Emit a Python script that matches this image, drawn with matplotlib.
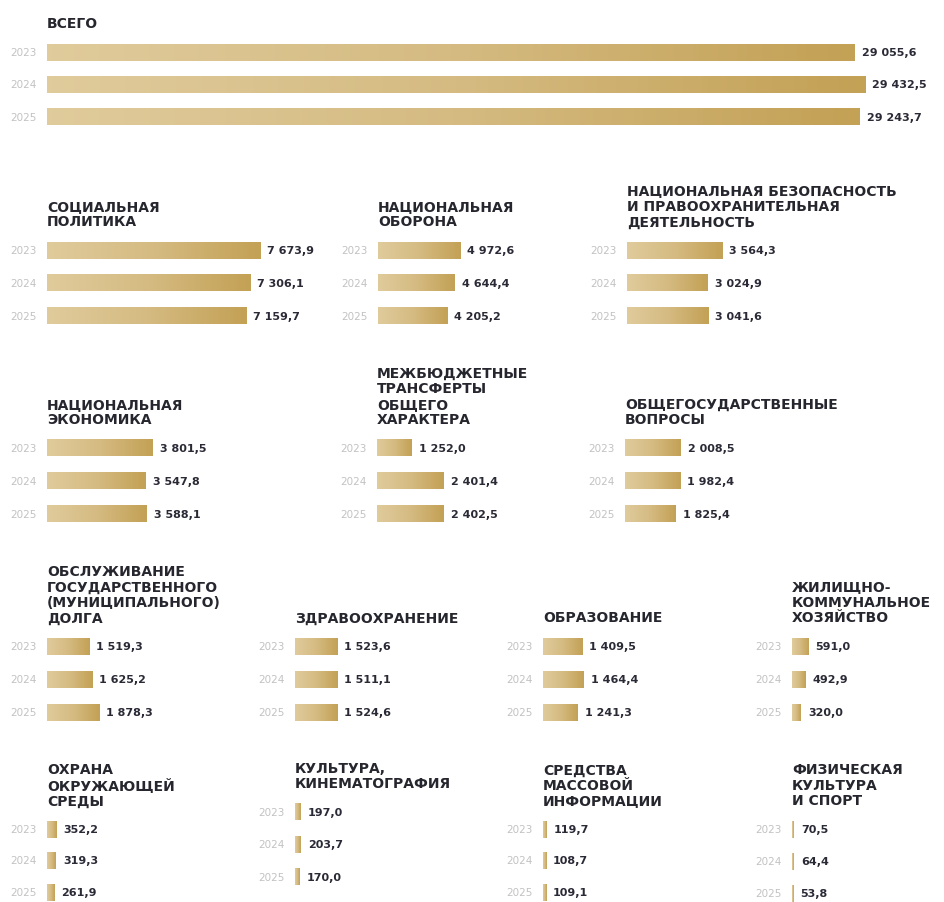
import numpy as np
import matplotlib.pyplot as plt
from matplotlib.colors import LinearSegmentedColormap

W, H = 944, 903

years = ["2023", "2024", "2025"]

titles = [
    "ВСЕГО",
    "СОЦИАЛЬНАЯ\nПОЛИТИКА",
    "НАЦИОНАЛЬНАЯ\nОБОРОНА",
    "НАЦИОНАЛЬНАЯ БЕЗОПАСНОСТЬ\nИ ПРАВООХРАНИТЕЛЬНАЯ\nДЕЯТЕЛЬНОСТЬ",
    "НАЦИОНАЛЬНАЯ\nЭКОНОМИКА",
    "МЕЖБЮДЖЕТНЫЕ\nТРАНСФЕРТЫ\nОБЩЕГО\nХАРАКТЕРА",
    "ОБЩЕГОСУДАРСТВЕННЫЕ\nВОПРОСЫ",
    "ОБСЛУЖИВАНИЕ\nГОСУДАРСТВЕННОГО\n(МУНИЦИПАЛЬНОГО)\nДОЛГА",
    "ЗДРАВООХРАНЕНИЕ",
    "ОБРАЗОВАНИЕ",
    "ЖИЛИЩНО-\nКОММУНАЛЬНОЕ\nХОЗЯЙСТВО",
    "ОХРАНА\nОКРУЖАЮЩЕЙ\nСРЕДЫ",
    "КУЛЬТУРА,\nКИНЕМАТОГРАФИЯ",
    "СРЕДСТВА\nМАССОВОЙ\nИНФОРМАЦИИ",
    "ФИЗИЧЕСКАЯ\nКУЛЬТУРА\nИ СПОРТ",
]

total = [29055.6, 29432.5, 29243.7]
social = [7673.9, 7306.1, 7159.7]
defense = [4972.6, 4644.4, 4205.2]
security = [3564.3, 3024.9, 3041.6]
economy = [3801.5, 3547.8, 3588.1]
transfers = [1252.0, 2401.4, 2402.5]
general = [2008.5, 1982.4, 1825.4]
debt = [1519.3, 1625.2, 1878.3]
health = [1523.6, 1511.1, 1524.6]
education = [1409.5, 1464.4, 1241.3]
housing = [591.0, 492.9, 320.0]
environment = [352.2, 319.3, 261.9]
culture = [197.0, 203.7, 170.0]
media = [119.7, 108.7, 109.1]
sport = [70.5, 64.4, 53.8]

values = [total, social, defense, security, economy, transfers, general,
          debt, health, education, housing, environment, culture, media, sport]

# panel layout in pixels: bar start x, panel width, centre of first / last bar,
# pixels per unit of value (the source draws defence on its own scale)
layout = [
    (47, 880, 53, 118, 0.0278),
    (47, 300, 251, 317, 0.0278),
    (378, 230, 251, 317, 0.0165),
    (627, 300, 251, 317, 0.0267),
    (47, 300, 449, 515, 0.0278),
    (377, 230, 449, 515, 0.0278),
    (625, 300, 449, 515, 0.0278),
    (47, 230, 647, 713, 0.0278),
    (295, 230, 647, 713, 0.0278),
    (543, 230, 647, 713, 0.0278),
    (792, 150, 647, 713, 0.0278),
    (47, 230, 830, 893, 0.0278),
    (295, 230, 813, 878, 0.0278),
    (543, 230, 830, 893, 0.0278),
    (792, 150, 830, 894, 0.0278),
]

gold = LinearSegmentedColormap.from_list("gold", ["#e0cb9c", "#d5bb82", "#c3a155"])
grad = np.linspace(0, 1, 256).reshape(1, -1)

title_font = dict(family="DejaVu Sans", fontsize=10, fontweight="bold", color="#26262f")
value_font = dict(family="DejaVu Sans", fontsize=8, fontweight="bold", color="#2a2a36")
year_font = dict(family="DejaVu Sans", fontsize=7.5, color="#c2c2c2")

BAR_PX = 17
LINE_PX = 15.5


def fmt(v):
    return f"{v:,.1f}".replace(",", " ").replace(".", ",")


fig = plt.figure(figsize=(W / 100, H / 100), dpi=100)
fig.patch.set_facecolor("white")

for title, vals, (x0, w, c1, c3, scale) in zip(titles, values, layout):
    sp = (c3 - c1) / 2
    top = c1 - sp / 2
    bottom = c3 + sp / 2
    ax = fig.add_axes([x0 / W, 1 - bottom / H, w / W, (bottom - top) / H])
    bh = BAR_PX / sp

    for i, v in enumerate(vals):
        ax.imshow(grad, cmap=gold, aspect="auto", interpolation="bilinear",
                  extent=[0, v, i + bh / 2, i - bh / 2], zorder=2)
        ax.annotate(fmt(v), xy=(v, i), xytext=(7, 0), textcoords="offset pixels",
                    ha="left", va="center", annotation_clip=False, **value_font)
        ax.annotate(years[i], xy=(0, i), xytext=(-10, 0), textcoords="offset pixels",
                    ha="right", va="center", annotation_clip=False, **year_font)

    ax.set_xlim(0, w / scale)
    ax.set_ylim(2.5, -0.5)
    ax.axis("off")

    # title lines, last line's baseline 16 px above the first bar
    base = 16 - (sp / 2 - BAR_PX / 2)
    for k, line in enumerate(reversed(title.split("\n"))):
        ax.annotate(line, xy=(0, 1), xycoords="axes fraction",
                    xytext=(0, base + k * LINE_PX), textcoords="offset pixels",
                    ha="left", va="baseline", annotation_clip=False, **title_font)

fig.savefig("out.png", dpi=100, facecolor="white")
